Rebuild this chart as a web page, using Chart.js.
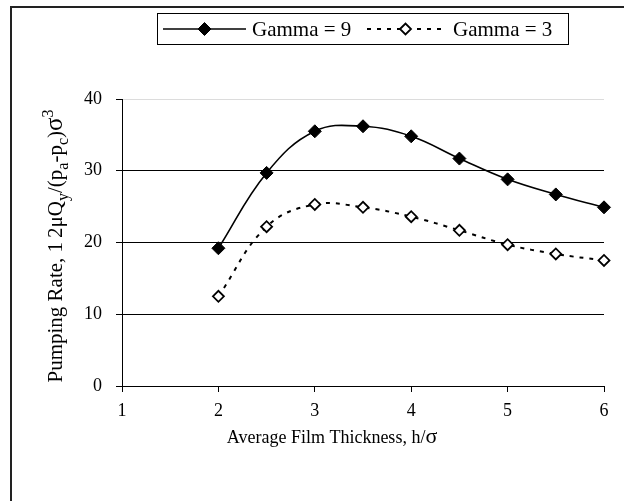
<!DOCTYPE html>
<html>
<head>
<meta charset="utf-8">
<script src="https://cdn.jsdelivr.net/npm/chart.js@4.4.0/dist/chart.umd.min.js"></script>
<style>
  html, body { margin: 0; padding: 0; background: #fff; }
  #wrap { width: 624px; height: 501px; position: relative; }
</style>
</head>
<body>
<div id="wrap"><canvas id="chart"></canvas></div>
<script>
// data
const thickness = [2, 2.5, 3, 3.5, 4, 4.5, 5, 5.5, 6];
const gamma9 = [19.2, 29.7, 35.5, 36.2, 34.8, 31.7, 28.8, 26.7, 24.9];
const gamma3 = [12.5, 22.2, 25.3, 24.9, 23.6, 21.7, 19.7, 18.4, 17.5];
const seriesNames = ['Gamma = 9', 'Gamma = 3'];
const xRange = [1, 6];
const yRange = [0, 40];
const yStep = 10;

const FONT = '"Liberation Serif", "Times New Roman", serif';

function toPoints(xs, ys) {
    return xs.map((x, i) => ({ x: x, y: ys[i] }));
}

// draws text with sub/superscript pieces, centred on (cx, baseline)
function drawRich(ctx, parts, cx, baseline, size) {
    const small = Math.round(size * 0.75);
    let total = 0;
    parts.forEach(p => {
        ctx.font = (p.s ? small : (p.big || size)) + 'px ' + FONT;
        p.w = ctx.measureText(p.t).width + (p.gap || 0);
        total += p.w;
    });
    let x = cx - total / 2;
    parts.forEach(p => {
        ctx.font = (p.s ? small : (p.big || size)) + 'px ' + FONT;
        let dy = 0;
        if (p.s === 'sub') dy = size * 0.28;
        if (p.s === 'sup') dy = -size * 0.45;
        ctx.fillText(p.t, x, baseline + dy);
        x += p.w;
    });
}

const decorations = {
    id: 'decorations',
    afterDraw(chart) {
        const ctx = chart.ctx;
        ctx.save();

        // outer frame, only top and left edges fall inside the picture
        ctx.strokeStyle = '#222';
        ctx.lineWidth = 2;
        ctx.strokeRect(11, 7, 700, 600);

        // legend box
        ctx.strokeStyle = '#000';
        ctx.lineWidth = 1;
        ctx.strokeRect(157.5, 13.5, 411, 31);

        const ly = 29;
        const samples = [
            { x0: 163, x1: 246, tx: 252 },
            { x0: 367, x1: 444, tx: 453 }
        ];
        chart.data.datasets.forEach((ds, i) => {
            const s = samples[i];
            ctx.strokeStyle = ds.borderColor;
            ctx.lineWidth = ds.borderWidth;
            ctx.setLineDash(ds.borderDash || []);
            ctx.beginPath();
            ctx.moveTo(s.x0, ly);
            ctx.lineTo(s.x1, ly);
            ctx.stroke();
            ctx.setLineDash([]);
            ctx.fillStyle = ds.pointBackgroundColor;
            ctx.strokeStyle = ds.pointBorderColor;
            ctx.lineWidth = ds.pointBorderWidth;
            Chart.helpers.drawPoint(ctx, {
                pointStyle: 'rectRot',
                radius: ds.pointRadius,
                borderWidth: ds.pointBorderWidth,
                rotation: 0
            }, (s.x0 + s.x1) / 2, ly);
            ctx.fillStyle = '#000';
            ctx.font = '21px ' + FONT;
            ctx.textBaseline = 'middle';
            ctx.textAlign = 'left';
            ctx.fillText(ds.label, s.tx, ly + 1);
        });

        // axis titles
        ctx.fillStyle = '#000';
        ctx.textBaseline = 'alphabetic';
        ctx.textAlign = 'left';
        drawRich(ctx, [
            { t: 'Average Film Thickness, h/' }, { t: 'σ', big: 22 }
        ], 332, 443, 18);

        ctx.translate(62, 246);
        ctx.rotate(-Math.PI / 2);
        drawRich(ctx, [
            { t: 'Pumping Rate, 1', gap: 4 }, { t: '2μQ' }, { t: 'y', s: 'sub' },
            { t: '/(p' }, { t: 'a', s: 'sub' },
            { t: '-p' }, { t: 'c', s: 'sub' },
            { t: ')' }, { t: 'σ', big: 25 }, { t: '3', s: 'sup' }
        ], 0, 0, 21);

        ctx.restore();
    }
};

new Chart(document.getElementById('chart'), {
    type: 'line',
    data: {
        datasets: [{
            label: seriesNames[0],
            data: toPoints(thickness, gamma9),
            borderColor: '#000',
            borderWidth: 1.6,
            pointStyle: 'rectRot',
            pointRadius: 6.5,
            pointBackgroundColor: '#000',
            pointBorderColor: '#000',
            pointBorderWidth: 1,
            tension: 0.4,
            clip: false
        }, {
            label: seriesNames[1],
            data: toPoints(thickness, gamma3),
            borderColor: '#000',
            borderWidth: 2,
            borderDash: [4, 6],
            pointStyle: 'rectRot',
            pointRadius: 5.5,
            pointBackgroundColor: '#fff',
            pointBorderColor: '#000',
            pointBorderWidth: 1.8,
            tension: 0.4,
            clip: false
        }]
    },
    options: {
        responsive: true,
        maintainAspectRatio: false,
        animation: false,
        layout: { padding: { top: 99, right: 20, left: 0, bottom: 0 } },
        plugins: {
            legend: { display: false },
            tooltip: { enabled: false }
        },
        scales: {
            x: {
                type: 'linear',
                min: xRange[0],
                max: xRange[1],
                afterFit: s => { s.height = 115; },
                ticks: {
                    stepSize: 1,
                    padding: 8,
                    color: '#000',
                    font: { family: FONT, size: 18 }
                },
                grid: {
                    drawOnChartArea: false,
                    tickLength: 6,
                    color: '#000'
                },
                border: { color: '#000', width: 1 }
            },
            y: {
                min: yRange[0],
                max: yRange[1],
                afterFit: s => { s.width = 122; },
                ticks: {
                    stepSize: yStep,
                    padding: 14,
                    color: '#000',
                    font: { family: FONT, size: 18 }
                },
                grid: {
                    tickLength: 6,
                    color: c => (c.tick && c.tick.value === yRange[1]) ? '#dcdcdc' : '#000',
                    tickColor: '#000'
                },
                border: { color: '#000', width: 1 }
            }
        }
    },
    plugins: [decorations]
});
</script>
</body>
</html>
